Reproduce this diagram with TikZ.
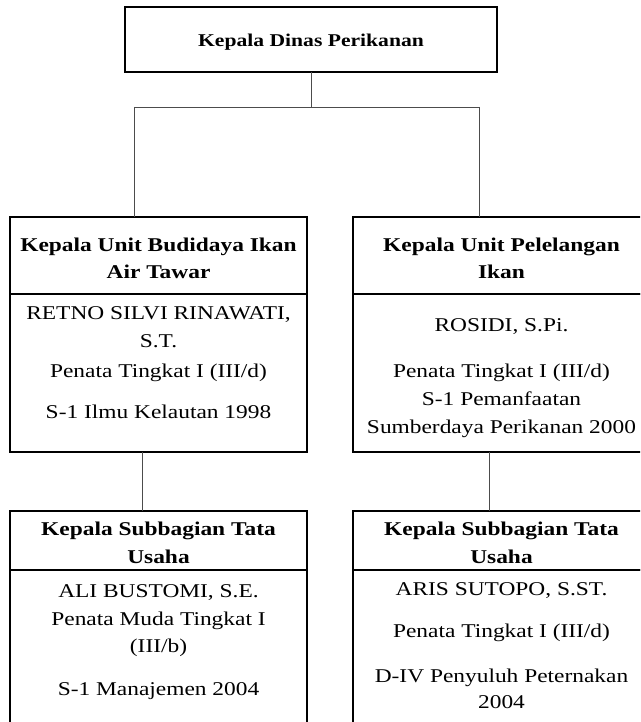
\documentclass[tikz,border=0pt]{standalone}
\usepackage{fontspec}
\setmainfont{Liberation Serif}[FakeStretch=1.2]
\begin{document}
\begin{tikzpicture}[x=1pt,y=-1pt,
  box/.style={draw, line width=1.3pt, inner sep=0pt, outer sep=0pt},
  conn/.style={line width=0.9pt, draw=black!70},
  hd/.style={font=\fontsize{19.5}{23}\selectfont\bfseries, anchor=base, inner sep=0pt},
  ttl/.style={font=\fontsize{18}{22}\selectfont\bfseries, anchor=base, inner sep=0pt},
  tx/.style={font=\fontsize{19.5}{23}\selectfont, anchor=base, inner sep=0pt}]
\useasboundingbox (0,0) rectangle (640,722);
\clip (0,0) rectangle (640,722);
% boxes
\node[box, minimum width=372, minimum height=65] (kd) at (311,39.5) {};
\node[box, minimum width=297, minimum height=77] (lmh) at (158.5,255.5) {};
\node[box, minimum width=297, minimum height=158] (lmb) at (158.5,373) {};
\node[box, minimum width=297, minimum height=77] (rmh) at (501.5,255.5) {};
\node[box, minimum width=297, minimum height=158] (rmb) at (501.5,373) {};
\node[box, minimum width=297, minimum height=59] (lbh) at (158.5,540.5) {};
\node[box, minimum width=297, minimum height=200] (lbb) at (158.5,670) {};
\node[box, minimum width=297, minimum height=59] (rbh) at (501.5,540.5) {};
\node[box, minimum width=297, minimum height=200] (rbb) at (501.5,670) {};
% connectors
\coordinate (bl) at (134,107);
\coordinate (br) at (479,107);
\draw[conn] (kd.south) -- (kd.south |- bl);
\draw[conn] (bl) -- (br);
\draw[conn] (bl) -- (bl |- lmh.north);
\draw[conn] (br) -- (br |- rmh.north);
\draw[conn] ([xshift=-16.5pt]lmb.south) -- ([xshift=-16.5pt]lbh.north);
\draw[conn] ([xshift=-12pt]rmb.south) -- ([xshift=-12pt]rbh.north);
% texts
\node[ttl] (t0) at (311,47) {Kepala Dinas Perikanan};
\node[hd] (t1) at (158.5,251) {Kepala Unit Budidaya Ikan};
\node[hd] (t2) at (158.5,278) {Air Tawar};
\node[tx] (t3) at (158.5,319) {RETNO SILVI RINAWATI,};
\node[tx] (t4) at (158.5,347) {S.T.};
\node[tx] (t5) at (158.5,377) {Penata Tingkat I (III/d)};
\node[tx] (t6) at (158.5,418) {S-1 Ilmu Kelautan 1998};
\node[hd] (u1) at (501.5,251) {Kepala Unit Pelelangan};
\node[hd] (u2) at (501.5,278) {Ikan};
\node[tx] (u3) at (501.5,331) {ROSIDI, S.Pi.};
\node[tx] (u4) at (501.5,377) {Penata Tingkat I (III/d)};
\node[tx] (u5) at (501.5,405) {S-1 Pemanfaatan};
\node[tx] (u6) at (501.5,433) {Sumberdaya Perikanan 2000};
\node[hd] (v1) at (158.5,535) {Kepala Subbagian Tata};
\node[hd] (v2) at (158.5,563) {Usaha};
\node[tx] (v3) at (158.5,597) {ALI BUSTOMI, S.E.};
\node[tx] (v4) at (158.5,625) {Penata Muda Tingkat I};
\node[tx] (v5) at (158.5,652) {(III/b)};
\node[tx] (v6) at (158.5,695) {S-1 Manajemen 2004};
\node[hd] (w1) at (501.5,535) {Kepala Subbagian Tata};
\node[hd] (w2) at (501.5,563) {Usaha};
\node[tx] (w3) at (501.5,595) {ARIS SUTOPO, S.ST.};
\node[tx] (w4) at (501.5,637) {Penata Tingkat I (III/d)};
\node[tx] (w5) at (501.5,682) {D-IV Penyuluh Peternakan};
\node[tx] (w6) at (501.5,708) {2004};
\end{tikzpicture}
\end{document}
